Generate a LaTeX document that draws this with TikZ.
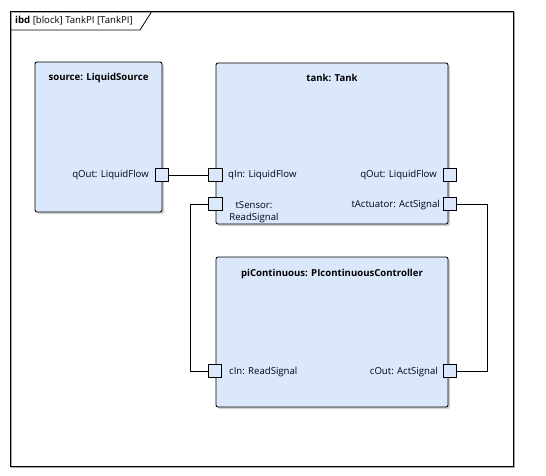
\documentclass[tikz,border=0pt]{standalone}
\usepackage{fontspec}
\setmainfont{Open Sans}
\begin{document}
\begin{tikzpicture}[x=1pt,y=-1pt,
  blk/.style={draw=black, line width=0.85pt, fill=blockblue, rounded corners=2pt, inner sep=0pt},
  shad/.style={fill=black!18, rounded corners=2pt, draw=none},
  port/.style={draw=black, line width=0.85pt, fill=blockblue, minimum width=13.5pt, minimum height=13.5pt, inner sep=0pt},
  wire/.style={draw=black, line width=0.85pt},
  lbl/.style={font=\fontsize{9.6}{12}\selectfont, inner sep=0pt, text=black!90!blue},
  ttl/.style={font=\fontsize{9.6}{12}\selectfont\bfseries, inner sep=0pt}
]
\definecolor{blockblue}{RGB}{219,232,251}
\useasboundingbox (0,0) rectangle (546,476);
% frame
\draw[black!35, line width=0.8pt] (11.5,12.5) rectangle (514.5,467.5);
\draw[black, line width=0.9pt] (10,11) rectangle (513,466);
\draw[black, line width=0.8pt] (10,30) -- (140,30) -- (152,11);
\node[anchor=west, inner sep=0pt, font=\fontsize{9.6}{12}\selectfont] (hdr) at (15,20.5) {\textbf{ibd} [block] TankPI [TankPI]};
% shadows
\fill[shad] (37,64) rectangle (164,214);
\fill[shad] (218,65) rectangle (450,226);
\fill[shad] (218,259) rectangle (450,409);
% blocks
\node[blk, minimum width=127pt, minimum height=150pt] (source) at (98.5,137) {};
\node[blk, minimum width=232pt, minimum height=161pt] (tank) at (332,143.5) {};
\node[blk, minimum width=232pt, minimum height=150pt] (ctrl) at (332,332) {};
\node[ttl] (sourcet) at (98.5,78) {source: LiquidSource};
\node[ttl] (tankt) at (332,78) {tank: Tank};
\node[ttl] (ctrlt) at (332,274) {piContinuous: PIcontinuousController};
% ports
\node[port] (srcq) at (162,175) {};
\node[port] (tqin) at (215.5,175) {};
\node[port] (tqout) at (450,175) {};
\node[port] (tsens) at (215.5,204) {};
\node[port] (tact) at (450,204) {};
\node[port] (cin) at (215,371) {};
\node[port] (cout) at (450,371) {};
% port labels
\node[lbl, anchor=east] (srcql) at (149,175.5) {qOut: LiquidFlow};
\node[lbl, anchor=west] (tqinl) at (228,175.5) {qIn: LiquidFlow};
\node[lbl, anchor=east] (tqoutl) at (437,175.5) {qOut: LiquidFlow};
\node[lbl, align=center] (tsensl) at (254,212) {tSensor:\\ReadSignal};
\node[lbl, anchor=east] (tactl) at (440,205) {tActuator: ActSignal};
\node[lbl, anchor=west] (cinl) at (229,372) {cIn: ReadSignal};
\node[lbl, anchor=east] (coutl) at (438,372) {cOut: ActSignal};
% connectors
\coordinate (lx) at (190,0);
\coordinate (rx) at (487,0);
\draw[wire] (srcq.east) -- (tqin.west);
\draw[wire] (tsens.west) -- (tsens.west -| lx) |- (cin.west);
\draw[wire] (tact.east) -- (tact.east -| rx) |- (cout.east);
\end{tikzpicture}
\end{document}
